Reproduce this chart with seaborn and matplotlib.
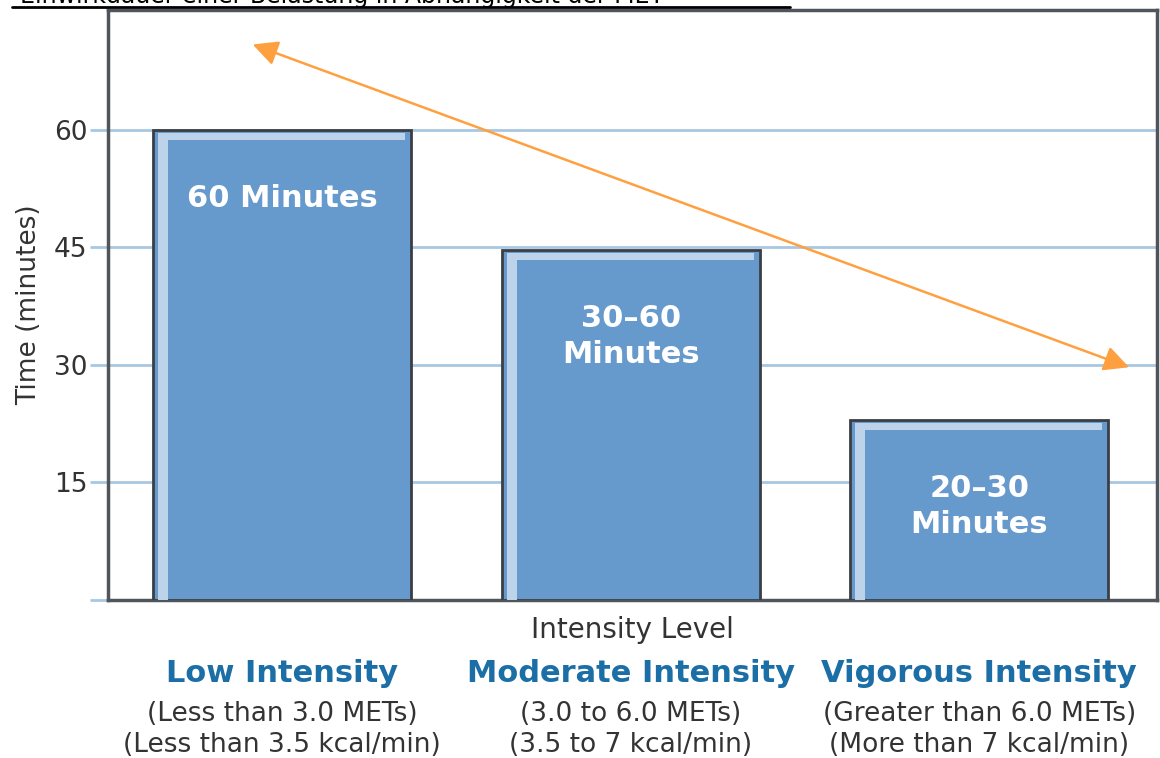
import matplotlib
matplotlib.use("Agg")
import matplotlib.pyplot as plt
import seaborn as sns
import pandas as pd
from matplotlib.patches import Rectangle
from matplotlib.lines import Line2D

# data
levels = ["Low Intensity", "Moderate Intensity", "Vigorous Intensity"]
minutes = [60, 44.7, 23.0]
bar_texts = ["60 Minutes", "30\u201360\nMinutes", "20\u201330\nMinutes"]
mets_lines = ["(Less than 3.0 METs)", "(3.0 to 6.0 METs)", "(Greater than 6.0 METs)"]
kcal_lines = ["(Less than 3.5 kcal/min)", "(3.5 to 7 kcal/min)", "(More than 7 kcal/min)"]
y_ticks = [15, 30, 45, 60]
arrow_start = (-0.085, 70.9)
arrow_end = (2.43, 29.7)
title = "Einwirkdauer einer Belastung in Abhängigkeit der MET"

bar_color = "#6699cc"
light_color = "#bdd3ea"
edge_color = "#3a3f45"
frame_color = "#50555b"
grid_color = "#a9c7e0"
label_blue = "#1c6fa6"
text_gray = "#333333"
arrow_color = "#ffa040"

sns.set_theme(style="white")
plt.rcParams["font.family"] = ["DejaVu Sans"]

df = pd.DataFrame({"level": levels, "minutes": minutes})

fig = plt.figure(figsize=(11.6, 7.58), dpi=100)
ax = fig.add_axes([108 / 1160, 158 / 758, 1049 / 1160, 590 / 758])

sns.barplot(data=df, x="level", y="minutes", color=bar_color, saturation=1,
            width=0.74, edgecolor=edge_color, linewidth=2, ax=ax, zorder=3)

ax.set_xlim(-0.5, 2.51)
ax.set_ylim(0, 75.3)

# grid lines + outward light-blue ticks
ax.set_yticks([0] + y_ticks)
ax.set_yticklabels([""] + [str(t) for t in y_ticks], fontsize=19, color=text_gray)
for t in y_ticks:
    ax.axhline(t, color=grid_color, lw=2, zorder=1)
ax.tick_params(axis="y", direction="out", length=13, width=2, color=grid_color,
               left=True, pad=2)
ax.tick_params(axis="x", bottom=False, labelbottom=False)
for s in ax.spines.values():
    s.set_color(frame_color)
    s.set_linewidth(2.5)
    s.set_visible(True)

ax.set_ylabel("Time (minutes)", fontsize=19, color=text_gray, labelpad=8)
ax.set_xlabel("")

# highlight strips on each bar (left and top bevel)
px_x = 1 / 348.0
px_y = 15 / 117.5
for p in ax.patches[:3]:
    x0, w, h = p.get_x(), p.get_width(), p.get_height()
    ax.add_patch(Rectangle((x0 + 5 * px_x, 0), 10 * px_x, h - 3 * px_y,
                           facecolor=light_color, edgecolor="none", zorder=4))
    ax.add_patch(Rectangle((x0 + 5 * px_x, h - 10 * px_y), w - 11 * px_x, 7 * px_y,
                           facecolor=light_color, edgecolor="none", zorder=4))

# text inside bars
for i, (val, txt) in enumerate(zip(minutes, bar_texts)):
    ax.text(i, val - 6.9, txt, ha="center", va="top", color="white",
            fontsize=22, fontweight="bold", linespacing=1.3, zorder=5)

# double-headed orange arrow
ax.annotate("", xy=arrow_end, xytext=arrow_start,
            arrowprops=dict(arrowstyle="<|-|>", color=arrow_color, lw=1.8,
                            mutation_scale=38, shrinkA=0, shrinkB=0), zorder=6)

# category labels under the axis
xt = ax.get_xaxis_transform()
ax.text(0.5, -0.051, "Intensity Level", transform=ax.transAxes, ha="center",
        va="center", fontsize=20, color=text_gray)
for i in range(len(levels)):
    ax.text(i, -0.124, levels[i], transform=xt, ha="center", va="center",
            fontsize=22, fontweight="bold", color=label_blue)
    ax.text(i, -0.193, mets_lines[i], transform=xt, ha="center", va="center",
            fontsize=19, color=text_gray)
    ax.text(i, -0.246, kcal_lines[i], transform=xt, ha="center", va="center",
            fontsize=19, color=text_gray)

# title, cut off at the top edge like the source screenshot
fig.text(20 / 1160, 1 - 3 / 758, title, ha="left", va="baseline",
         fontsize=17, color="black")
fig.add_artist(Line2D([12 / 1160, 790 / 1160], [1 - 6.5 / 758, 1 - 6.5 / 758],
                      color="black", lw=2))

fig.savefig("out.png", dpi=100)
